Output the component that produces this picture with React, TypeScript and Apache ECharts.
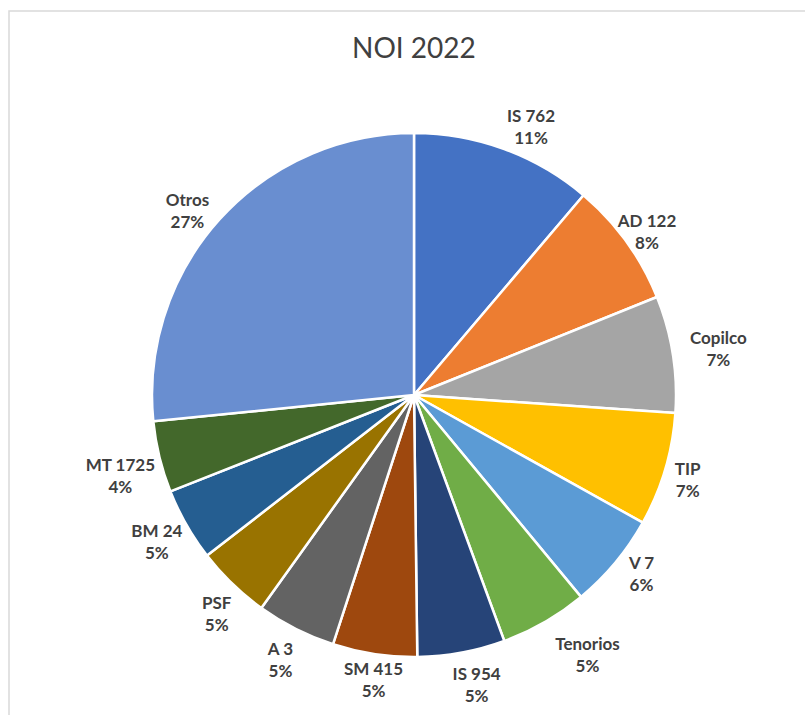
import React, { useEffect, useRef } from "react";
import * as echarts from "echarts";

const titleText = "NOI 2022";
const categories = [
  "IS 762",
  "AD 122",
  "Copilco",
  "TIP",
  "V 7",
  "Tenorios",
  "IS 954",
  "SM 415",
  "A 3",
  "PSF",
  "BM 24",
  "MT 1725",
  "Otros",
];
const shares = [11.2, 7.7, 7.2, 7.0, 5.9, 5.4, 5.4, 5.2, 4.9, 4.6, 4.5, 4.4, 26.6];
const colors = [
  "#4472C4",
  "#ED7D31",
  "#A5A5A5",
  "#FFC000",
  "#5B9BD5",
  "#70AD47",
  "#264478",
  "#9E480E",
  "#636363",
  "#997300",
  "#255E91",
  "#43682B",
  "#698ED0",
];
// small per-label nudges (px) to mimic the best-fit label placement
const labelNudge: [number, number][] = [
  [15, 9],
  [-7, 10],
  [12, 0],
  [-10, 0],
  [0, -11],
  [26, 3],
  [9, -2],
  [4, -8],
  [0, 0],
  [8, 5],
  [0, 0],
  [-6, 10],
  [-7, 14],
];

export default function App() {
  const ref = useRef<HTMLDivElement>(null);
  useEffect(() => {
    if (!ref.current) return;
    const chart = echarts.init(ref.current, undefined, { renderer: "svg" });
    const data = categories.map((name, i) => ({
      name,
      value: shares[i],
      itemStyle: { color: colors[i] },
    }));
    const labelData = categories.map((name, i) => ({ name, value: shares[i] }));
    chart.setOption({
      animation: false,
      backgroundColor: "#ffffff",
      title: {
        text: titleText,
        left: 347,
        top: 28,
        textStyle: {
          fontFamily: "Lato",
          fontSize: 28,
          fontWeight: "normal",
          color: "#404040",
        },
      },
      graphic: [
        {
          type: "rect",
          shape: { x: 9, y: 11, width: 900, height: 800 },
          style: { fill: "none", stroke: "#d9d9d9", lineWidth: 1.5 },
          silent: true,
        },
      ],
      series: [
        {
          type: "pie",
          center: [414, 395],
          radius: 262,
          startAngle: 90,
          clockwise: true,
          data,
          label: { show: false },
          labelLine: { show: false },
          itemStyle: { borderColor: "#ffffff", borderWidth: 2.5 },
          emphasis: { disabled: true },
        },
        {
          type: "pie",
          center: [414, 395],
          radius: [274, 312],
          startAngle: 90,
          clockwise: true,
          silent: true,
          data: labelData,
          itemStyle: { color: "rgba(0,0,0,0)", borderWidth: 0 },
          emphasis: { disabled: true },
          labelLine: { show: false },
          labelLayout: (p: any) => {
            const n = labelNudge[p.dataIndex] || [0, 0];
            return { dx: n[0], dy: n[1] };
          },
          label: {
            show: true,
            position: "inside",
            rotate: 0,
            fontFamily: "Lato",
            fontSize: 17,
            fontWeight: "bold",
            color: "#404040",
            lineHeight: 22,
            align: "center",
            formatter: (p: any) => `${p.name}\n${Math.round(p.percent)}%`,
          },
        },
      ],
    });
    return () => chart.dispose();
  }, []);
  return (
    <div
      ref={ref}
      style={{ position: "fixed", left: 0, top: 0, width: 805, height: 715 }}
    />
  );
}
